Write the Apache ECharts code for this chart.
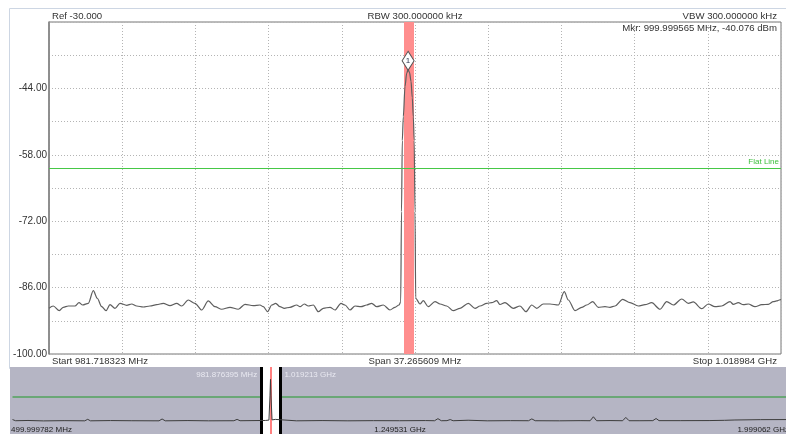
<!DOCTYPE html>
<html><head><meta charset="utf-8">
<script src="https://cdn.jsdelivr.net/npm/echarts@6/dist/echarts.min.js"></script>
<style>html,body{margin:0;padding:0;background:#fff}#c{width:786px;height:434px}</style>
</head><body><div id="c"></div>
<script>
// ---- data ----
const startMHz = 981.718323;
const stopMHz = 1018.983932;
const bottomDbm = -100;
const topDbm = -30;
const yLabelValues = [-44, -58, -72, -86, -100];
const mainFreq = [981.718,981.937,982.243,982.446,982.701,983.042,983.246,983.434,983.719,983.974,984.177,984.401,984.620,984.824,985.078,985.333,985.674,985.929,986.183,986.519,986.860,987.201,987.537,987.878,988.219,988.474,988.810,989.151,989.492,989.828,990.169,990.510,990.933,991.355,991.697,992.119,992.460,992.628,992.852,993.056,993.260,993.478,993.697,993.987,994.329,994.497,994.715,994.919,995.174,995.428,995.683,996.024,996.278,996.584,996.788,997.042,997.297,997.602,997.892,998.147,998.401,998.737,999.078,999.333,999.537,999.623,999.664,999.705,999.756,999.842,999.929,999.9996,1000.071,1000.148,1000.214,1000.265,1000.310,1000.351,1000.387,1000.606,1000.774,1001.028,1001.369,1001.624,1001.965,1002.301,1002.642,1003.065,1003.406,1003.660,1004.001,1004.256,1004.510,1004.678,1004.933,1005.356,1005.697,1006.002,1006.292,1006.547,1006.883,1007.224,1007.647,1007.952,1008.156,1008.497,1008.838,1009.092,1009.398,1009.683,1010.024,1010.278,1010.533,1010.925,1011.297,1011.719,1012.060,1012.401,1012.824,1013.165,1013.501,1013.929,1014.265,1014.519,1014.947,1015.283,1015.624,1015.965,1016.388,1016.556,1016.810,1017.065,1017.319,1017.660,1018.001,1018.337,1018.592,1018.765,1018.897,1018.984];
const mainDbm = [-90.36,-89.88,-90.87,-90.15,-89.88,-89.88,-89.18,-89.67,-89.31,-86.65,-88.25,-90.03,-90.87,-89.60,-90.36,-89.31,-89.73,-89.46,-89.88,-90.09,-89.88,-89.60,-89.31,-89.81,-89.31,-89.88,-88.61,-89.31,-90.72,-88.82,-90.03,-90.57,-90.15,-90.57,-89.52,-89.81,-89.67,-90.03,-91.08,-89.67,-89.31,-90.03,-90.36,-90.15,-89.67,-90.03,-89.46,-89.88,-89.67,-91.08,-90.36,-90.15,-90.72,-89.31,-89.67,-90.72,-89.88,-90.03,-89.67,-89.31,-90.03,-89.67,-90.72,-90.15,-89.67,-89.0,-70,-55,-50,-43.6,-40.8,-40.076,-40.6,-42.5,-46,-50,-55,-70,-88.25,-89.46,-88.76,-90.03,-88.97,-89.46,-89.88,-90.87,-90.36,-89.31,-90.36,-89.88,-89.31,-89.18,-88.76,-89.56,-89.18,-90.36,-89.88,-91.08,-89.67,-90.36,-89.46,-89.46,-89.67,-86.86,-88.61,-90.87,-90.15,-89.67,-88.97,-90.15,-90.03,-90.15,-89.88,-88.47,-89.18,-89.88,-89.60,-89.18,-90.57,-88.97,-89.67,-88.40,-89.31,-89.03,-90.45,-89.46,-90.03,-89.88,-88.97,-89.52,-89.18,-89.60,-89.46,-90.03,-89.60,-89.52,-88.97,-88.82,-88.61,-88.5];
const markerFreq = 999.999565;
const markerDbm = -40.076;
const bandFreq = [999.791, 1000.300];
const flatLineDbm = -60.8;
const ovMin = 499.999782;
const ovMax = 1999.062;
const ovWindow = [981.876395, 1019.213];
const ovFreq = [500.0,506,530,560,600,640,645.8,651,690,730,784,789.9,796,840,880,929,935.2,941,970,990,997,999,1000,1001,1003,1006,1009.4,1013,1050,1100,1150,1200,1250,1300,1318,1324.5,1331,1342,1348.3,1354,1383,1420,1465,1500,1506.5,1513,1560,1600,1619.5,1625.8,1632,1658,1682.5,1688.6,1695,1716,1741,1747.3,1753,1794,1850,1880,1900,1950,1999.06];
const ovDbm = [-88.6,-90.0,-89.7,-90.2,-89.9,-90.1,-88.3,-90.1,-89.8,-90.0,-90.1,-87.9,-90.1,-89.8,-90.1,-90.0,-88.4,-90.0,-89.8,-89.7,-89.2,-60,-40.1,-60,-89.0,-89.6,-88.4,-89.9,-90.1,-89.8,-90.1,-89.9,-90.0,-89.8,-90.0,-87.5,-90.0,-89.9,-88.6,-90.0,-89.4,-90.1,-89.9,-90.0,-87.8,-90.0,-90.1,-89.9,-90.0,-85.2,-90.0,-89.8,-90.0,-86.0,-90.0,-90.0,-89.9,-87.3,-89.9,-89.9,-89.8,-89.5,-89.1,-88.7,-88.6];
const headerTexts = ['Ref -30.000', 'RBW 300.000000 kHz', 'VBW 300.000000 kHz'];
const footerTexts = ['Start 981.718323 MHz', 'Span 37.265609 MHz', 'Stop 1.018984 GHz'];
const markerText = 'Mkr: 999.999565 MHz, -40.076 dBm';
const markerLabel = '1';
const flatLineLabel = 'Flat Line';
const ovAxisTexts = ['499.999782 MHz', '1.249531 GHz', '1.999062 GHz'];
const ovWindowTexts = ['981.876395 MHz', '1.019213 GHz'];

// ---- chart ----
const FONT = "'Liberation Sans', Arial, sans-serif";
const span = stopMHz - startMHz;
const mainData = mainFreq.map((f, i) => [f - startMHz, mainDbm[i] - bottomDbm]);
const ovData = ovFreq.map((f, i) => [f, ovDbm[i]]);
const txt = (x, y, t, align, size, color) => ({
  type: 'text', x: x, y: y, z: 10,
  style: { text: t, fill: color || '#333', fontSize: size || 9.6, fontFamily: FONT, align: align, verticalAlign: 'middle' }
});

const chart = echarts.init(document.getElementById('c'), null, { renderer: 'canvas' });
chart.setOption({
  animation: false,
  backgroundColor: '#fff',
  graphic: [
    { type: 'rect', z: -1, shape: { x: 9.5, y: 8.5, width: 777, height: 360 }, style: { fill: '#fff', stroke: '#cdd6e3', lineWidth: 1 } },
    { type: 'rect', z: 0, shape: { x: 10, y: 367, width: 776, height: 67 }, style: { fill: '#b5b5c4' } },
    txt(52, 16, headerTexts[0], 'left'),
    txt(415, 16, headerTexts[1], 'center'),
    txt(777, 16, headerTexts[2], 'right'),
    txt(777, 28, markerText, 'right'),
    txt(52, 361, footerTexts[0], 'left'),
    txt(415, 361, footerTexts[1], 'center'),
    txt(777, 361, footerTexts[2], 'right'),
    txt(11, 430, ovAxisTexts[0], 'left', 8, '#222'),
    txt(400, 430, ovAxisTexts[1], 'center', 8, '#222'),
    txt(789, 430, ovAxisTexts[2], 'right', 8, '#222')
  ],
  grid: [
    { left: 49, top: 22, right: 5, bottom: 80, show: true, backgroundColor: '#fff', borderColor: '#777', borderWidth: 1 },
    { left: 12.5, right: -2.5, top: 367, height: 67, show: false }
  ],
  xAxis: [
    { type: 'value', gridIndex: 0, min: 0, max: span, interval: span / 10,
      axisLine: { show: false }, axisTick: { show: false }, axisLabel: { show: false },
      splitLine: { show: true, lineStyle: { color: '#b4b4b4', width: 1, type: [1, 2] } } },
    { type: 'value', gridIndex: 1, min: ovMin, max: ovMax,
      axisLine: { show: false }, axisTick: { show: false }, axisLabel: { show: false }, splitLine: { show: false } }
  ],
  yAxis: [
    { type: 'value', gridIndex: 0, min: 0, max: topDbm - bottomDbm, interval: 7,
      axisLine: { show: true, lineStyle: { color: '#808080', width: 1.5 } }, axisTick: { show: false },
      axisLabel: { show: true, fontSize: 10, fontFamily: FONT, color: '#333', margin: 2,
        formatter: v => { const d = Math.round(v + bottomDbm); return yLabelValues.indexOf(d) >= 0 ? d.toFixed(2) : ''; } },
      splitLine: { show: true, lineStyle: { color: '#b4b4b4', width: 1, type: [1, 2] } } },
    { type: 'value', gridIndex: 1, min: -106, max: -25.2,
      axisLine: { show: false }, axisTick: { show: false }, axisLabel: { show: false }, splitLine: { show: false } }
  ],
  series: [
    { name: 'band', type: 'line', xAxisIndex: 0, yAxisIndex: 0, data: [], z: 1,
      markArea: { silent: true, z: 1, itemStyle: { color: '#ff8e8e' },
        data: [[{ xAxis: bandFreq[0] - startMHz }, { xAxis: bandFreq[1] - startMHz }]] },
      markLine: { silent: true, z: 4, symbol: ['none', 'none'],
        data: [{ yAxis: flatLineDbm - bottomDbm, lineStyle: { color: '#46c846', width: 1, type: 'solid' },
          label: { show: true, position: 'insideEndTop', formatter: flatLineLabel, color: '#3cbf3c', fontSize: 8, fontFamily: FONT, distance: 2 } }] } },
    { name: 'trace', type: 'line', xAxisIndex: 0, yAxisIndex: 0, data: mainData, z: 3,
      smooth: 0.3, smoothMonotone: 'x',
      showSymbol: false, symbol: 'none', lineStyle: { color: '#5e5e5e', width: 1.2 },
      markPoint: { silent: true, z: 6,
        data: [{ coord: [markerFreq - startMHz, markerDbm - bottomDbm], symbol: 'diamond', symbolSize: [12, 19], symbolOffset: [0, -9],
          itemStyle: { color: '#fff', borderColor: '#555', borderWidth: 1 },
          label: { show: true, position: 'inside', formatter: markerLabel, fontSize: 8, color: '#2a3550', fontFamily: FONT } }] } },
    { name: 'ovGreen', type: 'line', xAxisIndex: 1, yAxisIndex: 1, data: [], z: 1,
      markLine: { silent: true, z: 1, symbol: ['none', 'none'],
        data: [{ yAxis: flatLineDbm, lineStyle: { color: '#52a35c', width: 1.6, type: 'solid' }, label: { show: false } }] } },
    { name: 'ovWindow', type: 'line', xAxisIndex: 1, yAxisIndex: 1, data: [], z: 2,
      markArea: { silent: true, z: 2, itemStyle: { color: '#ffffff' },
        data: [[{ xAxis: ovWindow[0] }, { xAxis: ovWindow[1] }]] },
      markLine: { silent: true, z: 3, symbol: ['none', 'none'], label: { show: false },
        data: [
          { xAxis: ovWindow[0], lineStyle: { color: '#000', width: 3, type: 'solid' } },
          { xAxis: ovWindow[1], lineStyle: { color: '#000', width: 3, type: 'solid' } },
          { xAxis: markerFreq, lineStyle: { color: '#ff8080', width: 2, type: 'solid' } }
        ] },
      markPoint: { silent: true, z: 5, symbolSize: 0,
        data: [
          { coord: [ovWindow[0], -34.3], label: { show: true, position: 'left', distance: 4, formatter: ovWindowTexts[0], color: '#e9e9f1', fontSize: 8, fontFamily: FONT } },
          { coord: [ovWindow[1], -34.3], label: { show: true, position: 'right', distance: 4, formatter: ovWindowTexts[1], color: '#e9e9f1', fontSize: 8, fontFamily: FONT } }
        ] } },
    { name: 'ovTrace', type: 'line', xAxisIndex: 1, yAxisIndex: 1, data: ovData, z: 4,
      showSymbol: false, symbol: 'none', lineStyle: { color: '#3c3c3c', width: 1 } }
  ]
});
</script>
</body></html>
